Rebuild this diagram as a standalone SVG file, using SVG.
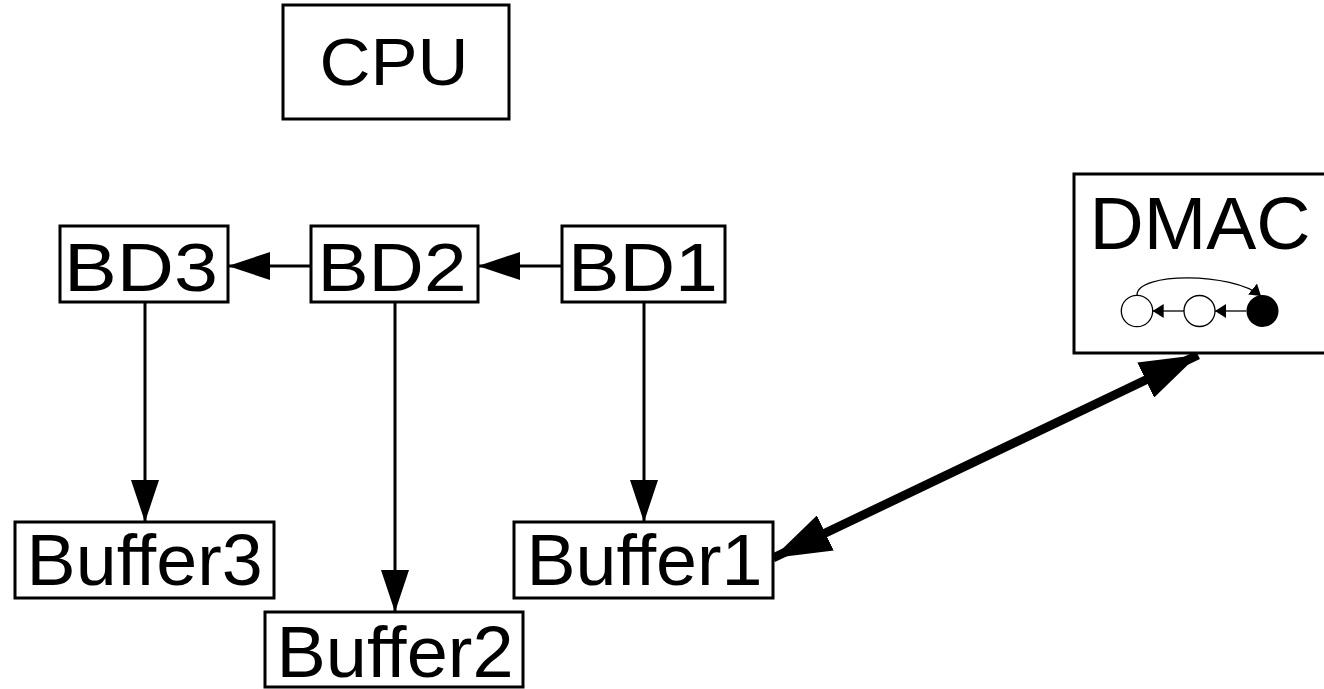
<svg xmlns="http://www.w3.org/2000/svg" width="1324" height="689" viewBox="0 0 1324 689">
  <style>
    .box { fill: #fff; stroke: #000; stroke-width: 3; }
    .lbl { font-family: "Liberation Sans", Arial, sans-serif; fill: #000; text-anchor: middle; }
    .edge { stroke: #000; stroke-width: 3; fill: none; }
    .thin { stroke: #000; stroke-width: 1.3; fill: none; }
  </style>
  <defs>
    <marker id="head" markerUnits="userSpaceOnUse" markerWidth="42" markerHeight="28" refX="42" refY="14" orient="auto">
      <path d="M0,0 L42,14 L0,28 z" fill="#000"/>
    </marker>
    <marker id="bigHead" markerUnits="userSpaceOnUse" markerWidth="58" markerHeight="39" refX="58" refY="19.5" orient="auto-start-reverse">
      <path d="M0,0 L58,19.5 L0,39 z" fill="#000"/>
    </marker>
    <marker id="tinyHead" markerUnits="userSpaceOnUse" markerWidth="11" markerHeight="14" refX="11" refY="7" orient="auto">
      <path d="M0,0 L11,7 L0,14 z" fill="#000"/>
    </marker>
  </defs>

  <rect width="1324" height="689" fill="#fff"/>

  <g id="connectors">
    <line class="edge" x1="562" y1="266" x2="478" y2="266" marker-end="url(#head)"/>
    <line class="edge" x1="311" y1="266" x2="228" y2="266" marker-end="url(#head)"/>
    <line class="edge" x1="145" y1="302" x2="145" y2="522" marker-end="url(#head)"/>
    <line class="edge" x1="395" y1="302" x2="395" y2="612" marker-end="url(#head)"/>
    <line class="edge" x1="644" y1="302" x2="644" y2="522" marker-end="url(#head)"/>
    <line stroke="#000" stroke-width="9" x1="773" y1="558" x2="1198" y2="355" marker-start="url(#bigHead)" marker-end="url(#bigHead)"/>
  </g>

  <g id="cpu">
    <rect class="box" x="283" y="5" width="226" height="114"/>
    <text class="lbl" x="394" y="85" font-size="67" textLength="149" lengthAdjust="spacingAndGlyphs">CPU</text>
  </g>

  <g id="bd3">
    <rect class="box" x="60" y="226" width="168" height="76"/>
    <text class="lbl" x="141" y="291" font-size="68" textLength="154" lengthAdjust="spacingAndGlyphs">BD3</text>
  </g>
  <g id="bd2">
    <rect class="box" x="311" y="226" width="167" height="76"/>
    <text class="lbl" x="392" y="291" font-size="68" textLength="149" lengthAdjust="spacingAndGlyphs">BD2</text>
  </g>
  <g id="bd1">
    <rect class="box" x="562" y="226" width="163" height="76"/>
    <text class="lbl" x="643" y="291" font-size="68" textLength="150" lengthAdjust="spacingAndGlyphs">BD1</text>
  </g>

  <g id="buffer3">
    <rect class="box" x="15" y="522" width="259" height="76"/>
    <text class="lbl" x="144.6" y="585" font-size="72" textLength="236" lengthAdjust="spacingAndGlyphs">Buffer3</text>
  </g>
  <g id="buffer2">
    <rect class="box" x="265" y="612" width="258" height="75"/>
    <text class="lbl" x="395" y="677" font-size="72" textLength="237" lengthAdjust="spacingAndGlyphs">Buffer2</text>
  </g>
  <g id="buffer1">
    <rect class="box" x="514" y="522" width="259" height="76"/>
    <text class="lbl" x="644.5" y="585" font-size="72" textLength="236" lengthAdjust="spacingAndGlyphs">Buffer1</text>
  </g>

  <g id="dmac">
    <rect class="box" x="1074" y="174" width="260" height="179"/>
    <text class="lbl" x="1200" y="249" font-size="74" textLength="221" lengthAdjust="spacingAndGlyphs">DMAC</text>
    <!-- descriptor ring icon -->
    <circle cx="1137" cy="311" r="15.7" fill="#fff" stroke="#000" stroke-width="1.3"/>
    <circle cx="1199.5" cy="311" r="15.5" fill="#fff" stroke="#000" stroke-width="1.3"/>
    <circle cx="1262.5" cy="311" r="16" fill="#000"/>
    <line class="thin" x1="1246.5" y1="311" x2="1215" y2="311" marker-end="url(#tinyHead)"/>
    <line class="thin" x1="1184" y1="311" x2="1152.7" y2="311" marker-end="url(#tinyHead)"/>
    <path class="thin" d="M1137,295 C1137,272 1232,272 1261,296" marker-end="url(#tinyHead)"/>
  </g>
</svg>
